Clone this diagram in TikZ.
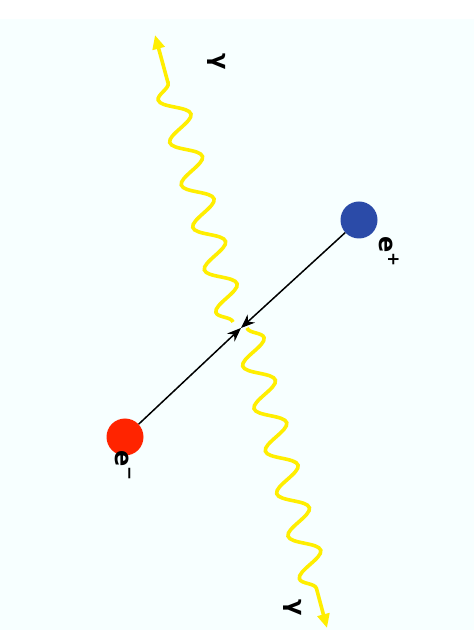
\documentclass[tikz,border=0pt]{standalone}
\usepackage{fontspec}
\setmainfont{DejaVu Sans}
\usetikzlibrary{arrows.meta,decorations.pathmorphing}
\definecolor{bgcyan}{RGB}{247,255,255}
\definecolor{posblue}{RGB}{43,75,168}
\definecolor{elered}{RGB}{255,36,0}
\definecolor{photon}{RGB}{255,238,0}

\begin{document}
\begin{tikzpicture}[x=1pt, y=1pt,
  particle/.style={circle, inner sep=0pt, minimum size=37pt, fill=#1},
  lepton/.style={-{Stealth[length=14pt,width=11pt]}, line width=1.5pt, black},
  wave/.style={
    -{Triangle[length=14pt,width=12pt]},
    line width=3.6pt, color=photon, decorate,
    decoration={snake, segment length=44pt, amplitude=14pt, post length=#1}
  },
  tag/.style={rotate=-90, font=\bfseries\fontsize{24}{26}\selectfont}
]
\useasboundingbox (0,0) rectangle (474,630);
\fill[bgcyan] (0,0) rectangle (474,611);

% particles
\node[particle=posblue] (pos) at (359,410) {};
\node[particle=elered] (ele) at (125,193) {};
\coordinate (vtx) at (241,302);

\draw[lepton] (pos) -- (vtx);
\draw[lepton] (ele) -- (vtx);

% photons
\coordinate (gup0) at (233,308);
\coordinate (gup) at (155,595);
\coordinate (gdn0) at (247,302);
\coordinate (gdn) at (327,2);
\draw[wave=34pt] (gup0) -- (gup);
\draw[wave=36pt] (gdn0) -- (gdn);

% labels
\node[tag] (lpos) at (389,378) {e\textsuperscript{+}};
\node[tag] (lele) at (123,164) {e\textsuperscript{−}};
\node[tag] (lgup) at (217,568) {γ};
\node[tag] (lgdn) at (293,22) {γ};
\end{tikzpicture}
\end{document}
